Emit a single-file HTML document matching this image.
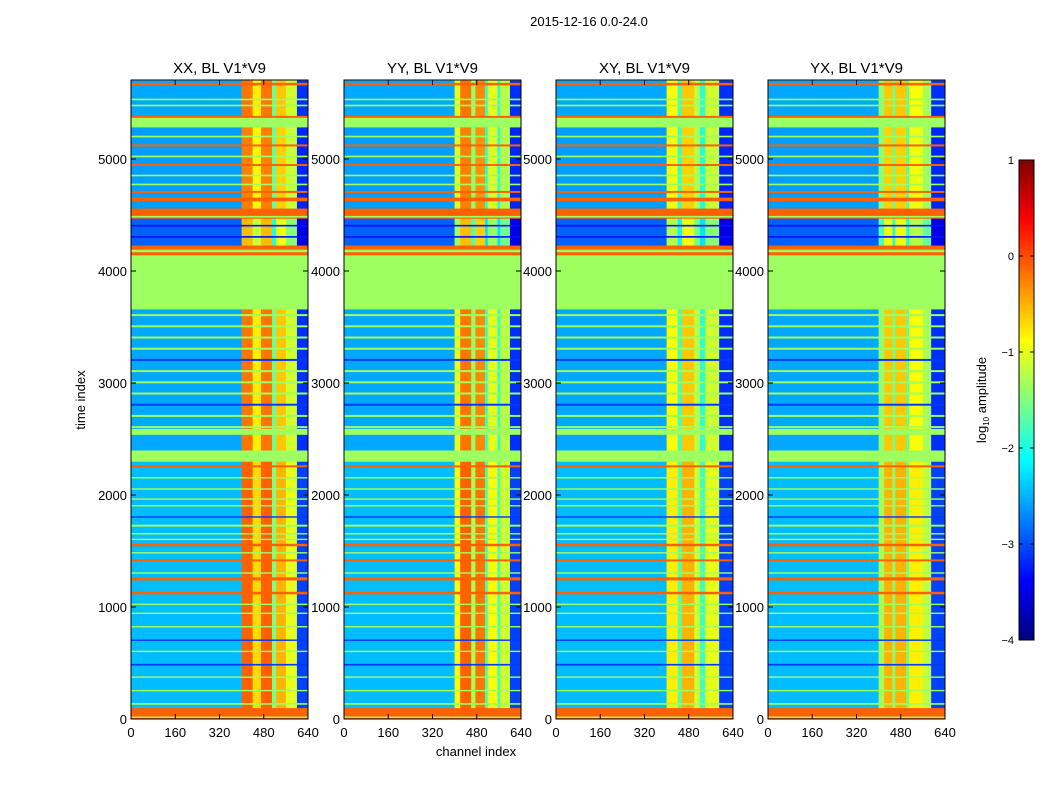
<!DOCTYPE html>
<html><head><meta charset="utf-8"><style>
html,body{margin:0;padding:0;background:#fff;}
svg text{font-family:"Liberation Sans",sans-serif;fill:#000;}
</style></head><body>
<svg id="fig" width="1050" height="800" viewBox="0 0 1050 800" xmlns="http://www.w3.org/2000/svg">
<rect width="1050" height="800" fill="#fff"/>
<text x="589" y="26" font-size="13" text-anchor="middle">2015-12-16 0.0-24.0</text>
<text transform="translate(85,400) rotate(-90)" font-size="13" text-anchor="middle">time index</text>
<text x="476" y="756" font-size="13" text-anchor="middle">channel index</text>
<text transform="translate(986,400) rotate(-90)" font-size="13" text-anchor="middle">log<tspan font-size="8" dy="3">10</tspan><tspan dy="-3"> amplitude</tspan></text>
<g id="panels"></g>
<g id="cbar"></g>
</svg>
<script>
// ---- data ----
const panelTitles = ["XX, BL V1*V9","YY, BL V1*V9","XY, BL V1*V9","YX, BL V1*V9"];
const xTicks = [0,160,320,480,640];
const yTicks = [0,1000,2000,3000,4000,5000];
const cbTicks = [1,0,-1,-2,-3,-4];
const segStart = [0,100,2300,2400,4140,4230,4470,4560,5285,5385];
const segEnd   = [100,2300,2400,3660,4230,4470,4560,5285,5385,5700];
const segLevel = [-0.1,-2.45,-1.35,-2.55,-0.1,-2.9,-0.1,-2.6,-1.35,-2.55];
const segFlat  = [1,0,1,0,1,0,1,0,1,0];
const segStart2 = [3660];
const segEnd2 = [4140];
const segLevel2 = [-1.35];
const lineT = [12,130,250,370,480,600,700,820,940,1020,1116,1240,1300,1410,1480,1545,1600,1650,1720,1800,1900,1960,2050,2150,2250,2540,2600,2700,2800,2900,3000,3100,3200,3300,3400,3500,3600,4170,4300,4400,4480,4625,4700,4768,4848,4940,5018,5115,5196,5370,5473,5527,5660];
const lineW = [10,12,10,10,12,10,10,10,10,10,20,25,10,15,10,20,10,10,15,10,10,10,10,10,15,50,15,15,15,15,15,15,15,15,15,15,15,20,12,12,12,30,15,12,12,15,12,15,12,15,12,12,20];
const lineV = [-1.35,-1.35,-1.35,-1.35,-3.1,-1.35,-3.1,-1.35,-1.35,-1.35,-0.1,-0.1,-1.35,-0.1,-1.35,-0.1,-1.35,-1.35,-1.35,-3.1,-1.35,-1.35,-1.35,-1.35,-0.1,-1.35,-1.35,-1.35,-3.1,-1.35,-1.35,-1.35,-3.1,-1.35,-1.35,-1.35,-1.35,-1.35,-3.3,-3.3,-1.35,-0.1,-0.1,-1.35,-1.35,-0.1,-1.35,-0.1,-1.35,-0.1,-1.35,-1.35,-0.1];
const chStart = [
 [0,400,440,470,510,525,560,600],
 [0,400,420,460,475,510,520,555,565,600],
 [0,400,440,455,500,520,540,590],
 [0,400,420,450,460,500,510,560,590]];
const chEnd = [
 [400,440,470,510,525,560,600,640],
 [400,420,460,475,510,520,555,565,600,640],
 [400,440,455,500,520,540,590,640],
 [400,420,450,460,500,510,560,590,640]];
const chOff = [
 [0,2.35,1.75,2.35,0.95,1.95,1.45,-0.6],
 [0,1.55,2.35,1.15,2.25,0.65,1.55,0.65,1.35,-0.6],
 [0,1.65,0.75,1.95,1.35,0.65,1.45,-0.6],
 [0,1.15,1.95,0.95,1.95,0.85,1.65,1.25,-0.6]];
// ---- layout ----
const panelX = [131,344,556,768], panelW = 177, plotTop = 80, plotBot = 719;
const yScale = t => plotBot - t*0.112;
const NS="http://www.w3.org/2000/svg";
function jet(v){const x=Math.max(0,Math.min(1,(v+4)/5));const c=a=>Math.round(255*Math.max(0,Math.min(1,1.5-Math.abs(4*x-a))));return `rgb(${c(3)},${c(2)},${c(1)})`;}
function mk(tag,attrs,parent){const e=document.createElementNS(NS,tag);for(const k in attrs)e.setAttribute(k,attrs[k]);parent.appendChild(e);return e;}
const panels=document.getElementById('panels');
for(let p=0;p<4;p++){
  const x0=panelX[p], xs=c=>x0+c*panelW/640;
  const g=mk('g',{},panels);
  
  
  const hm=mk('g',{},g);
  
  
  const rect=(t0,t1,c0,c1,v)=>{const r=mk('rect',{x:xs(c0),y:yScale(t1),width:xs(c1)-xs(c0)+0.3,height:yScale(t0)-yScale(t1)+0.3,fill:jet(v)},hm);
    
    };
  for(let i=0;i<segStart.length;i++){
    if(segFlat[i]) rect(segStart[i],segEnd[i],0,640,segLevel[i]);
    else for(let j=0;j<chStart[p].length;j++) rect(segStart[i],segEnd[i],chStart[p][j],chEnd[p][j],segLevel[i]+chOff[p][j]);
  }
  for(let i=0;i<segStart2.length;i++) rect(segStart2[i],segEnd2[i],0,640,segLevel2[i]);
  for(let i=0;i<lineT.length;i++) rect(lineT[i],lineT[i]+lineW[i],0,640,lineV[i]);
  const fr=mk('rect',{x:x0,y:plotTop,width:panelW,height:plotBot-plotTop,fill:'none',stroke:'#000','stroke-width':1},g);
  
  
  const tt=mk('text',{x:x0+panelW/2,y:73,'font-size':15,'text-anchor':'middle'},g);tt.textContent=panelTitles[p];
  
  
  for(const v of xTicks){const X=xs(v);
    mk('line',{x1:X,x2:X,y1:plotBot,y2:plotBot-5,stroke:'#000'},g);mk('line',{x1:X,x2:X,y1:plotTop,y2:plotTop+5,stroke:'#000'},g);
    const t=mk('text',{x:X,y:737,'font-size':13,'text-anchor':'middle'},g);t.textContent=v;
    
    }
  for(const v of yTicks){const Y=yScale(v);
    mk('line',{x1:x0,x2:x0+5,y1:Y,y2:Y,stroke:'#000'},g);mk('line',{x1:x0+panelW,x2:x0+panelW-5,y1:Y,y2:Y,stroke:'#000'},g);
    const t=mk('text',{x:x0-4,y:Y+5,'font-size':13,'text-anchor':'end'},g);t.textContent=v;
    
    }
}
const cb=document.getElementById('cbar');


const cbX=1019,cbW=15,cbTop=160,cbBot=640,cbY=v=>cbBot-(v+4)*(cbBot-cbTop)/5;
for(let i=0;i<240;i++){const v=-4+5*i/240;mk('rect',{x:cbX,y:cbY(v+5/240),width:cbW,height:(cbBot-cbTop)/240+0.5,fill:jet(v+2.5/240)},cb);}
mk('rect',{x:cbX,y:cbTop,width:cbW,height:cbBot-cbTop,fill:'none',stroke:'#000'},cb);
for(const v of cbTicks){const Y=cbY(v);
  mk('line',{x1:cbX,x2:cbX+4,y1:Y,y2:Y,stroke:'#000'},cb);mk('line',{x1:cbX+cbW,x2:cbX+cbW-4,y1:Y,y2:Y,stroke:'#000'},cb);
  const t=mk('text',{x:cbX-5,y:Y+4,'font-size':11,'text-anchor':'end'},cb);t.textContent=v<0?'\u2212'+(-v):v;
  
  }
</script>
</body></html>
